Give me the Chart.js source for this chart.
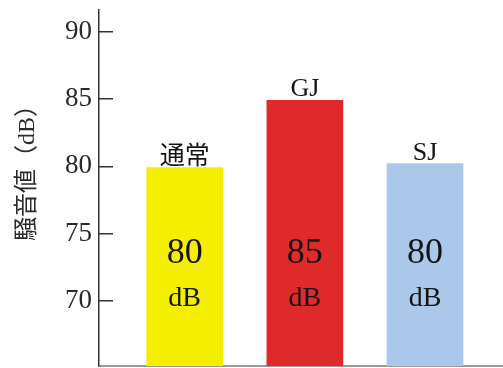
<!DOCTYPE html>
<html>
<head>
<meta charset="utf-8">
<script src="https://cdn.jsdelivr.net/npm/chart.js@4/dist/chart.umd.min.js"></script>
<style>
html,body{margin:0;padding:0;background:#fff;}
#wrap{width:503px;height:368px;}
</style>
</head>
<body>
<div id="wrap"><canvas id="c" width="503" height="368"></canvas></div>
<script>
// ---- data ----
const categories = ['通常', 'GJ', 'SJ'];
const noiseValues = [79.9, 84.9, 80.2];
const valueLabels = ['80', '85', '80'];
const unitLabel = 'dB';
const yTicks = [70, 75, 80, 85, 90];
const yTitle = '騒音値（dB）';
const barColors = ['#f4ef00', '#df2a2c', '#abc7ea'];

const serif = '"Liberation Serif", "DejaVu Serif", serif';
const cjk = '"Liberation Serif", "Noto Sans CJK JP", serif';

const labelPlugin = {
  id: 'labels',
  afterDatasetsDraw(chart) {
    const ctx = chart.ctx;
    const meta = chart.getDatasetMeta(0);
    const ys = chart.scales.y;
    ctx.save();
    ctx.fillStyle = '#151515';
    ctx.textAlign = 'center';
    meta.data.forEach((bar, i) => {
      ctx.font = (i === 0 ? '25px ' + cjk : '26px ' + serif);
      ctx.textBaseline = 'alphabetic';
      ctx.fillText(categories[i], bar.x, bar.y - 4);
      ctx.textBaseline = 'middle';
      ctx.font = '36px ' + serif;
      ctx.fillText(valueLabels[i], bar.x, ys.getPixelForValue(73.5));
      ctx.font = '28px ' + serif;
      ctx.fillText(unitLabel, bar.x, ys.getPixelForValue(70.2));
    });
    ctx.translate(27.5, 167);
    ctx.rotate(-Math.PI / 2);
    ctx.font = '24px ' + cjk;
    ctx.fillStyle = '#2a2a2a';
    ctx.textBaseline = 'middle';
    ctx.fillText(yTitle, 0, 0);
    ctx.restore();
  }
};

new Chart(document.getElementById('c'), {
  type: 'bar',
  data: {
    datasets: [{
      data: noiseValues.map((v, i) => ({x: i + 1, y: v})),
      backgroundColor: barColors,
      borderWidth: 0,
      barThickness: 76
    }]
  },
  options: {
    responsive: false,
    animation: false,
    layout: {padding: {top: 10, right: 0, bottom: 0, left: 0}},
    plugins: {legend: {display: false}, tooltip: {enabled: false}},
    scales: {
      x: {
        type: 'linear',
        offset: false,
        min: 0.2867,
        max: 3.649,
        grid: {display: false, drawTicks: false, offset: false},
        ticks: {display: false},
        border: {display: true, color: '#9a9a9a', width: 2},
        afterFit(s) { s.height = 2; s.paddingLeft = 0; s.paddingRight = 0; }
      },
      y: {
        type: 'linear',
        min: 65.17,
        max: 91.61,
        afterBuildTicks(s) { s.ticks = yTicks.map(v => ({value: v})); },
        grid: {drawOnChartArea: false, drawTicks: true, tickLength: -14, color: '#333', lineWidth: 1.5},
        border: {display: true, color: '#333', width: 1.5},
        ticks: {
          color: '#2a2a2a',
          padding: 21,
          font: {family: serif, size: 27},
          callback: v => String(v)
        },
        afterFit(s) { s.width = 99; s.paddingTop = 0; s.paddingBottom = 0; }
      }
    }
  },
  plugins: [labelPlugin]
});
</script>
</body>
</html>
